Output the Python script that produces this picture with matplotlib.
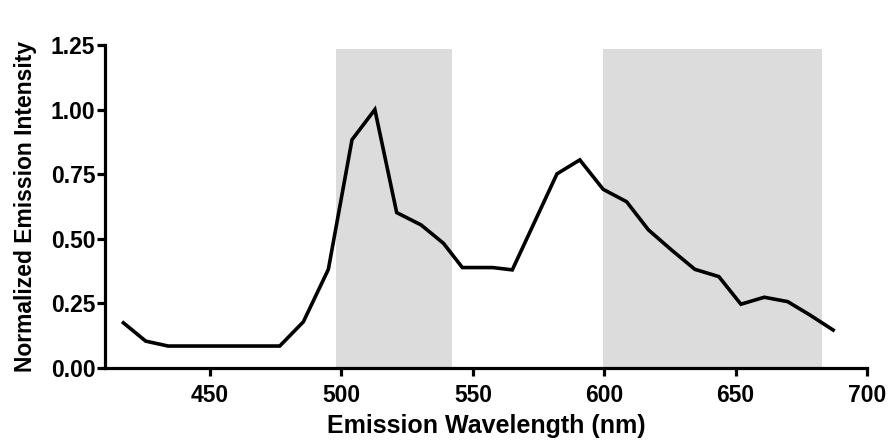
import matplotlib
matplotlib.use("Agg")
import matplotlib.pyplot as plt
from matplotlib.ticker import FormatStrFormatter

wavelength = [417, 425.5, 434, 443, 452, 460, 469, 476.5, 485.5, 495, 504, 512.7,
              521, 530.3, 538.8, 546, 557.5, 565, 573.5, 582, 590.7, 599.6, 608.5,
              616.8, 625.6, 634.5, 643.6, 652, 660.9, 669.8, 678.3, 687.1]
intensity = [0.174, 0.103, 0.084, 0.084, 0.084, 0.084, 0.084, 0.084, 0.178, 0.381,
             0.883, 1.0, 0.601, 0.553, 0.482, 0.388, 0.388, 0.379, 0.565, 0.751,
             0.805, 0.691, 0.643, 0.534, 0.456, 0.381, 0.353, 0.246, 0.273, 0.256,
             0.204, 0.146]
shade_bands = [(498, 542), (599.5, 683)]
x_ticks = [450, 500, 550, 600, 650, 700]
y_ticks = [0.00, 0.25, 0.50, 0.75, 1.00, 1.25]

plt.rcParams['font.family'] = ['Liberation Sans', 'DejaVu Sans']
plt.rcParams['font.weight'] = 'bold'

fig = plt.figure(figsize=(8.89, 4.44), dpi=100)
ax = fig.add_axes([0.1181, 0.1718, 0.9753 - 0.1181, 0.8986 - 0.1718])

for a, b in shade_bands:
    ax.fill_between([a, b], 0, 1.235, color='#dcdcdc', lw=0, zorder=0)

ax.plot(wavelength, intensity, color='black', lw=2.6, solid_joinstyle='miter', zorder=3)

ax.set_xlim(410, 700)
ax.set_ylim(0, 1.25)
ax.set_xticks(x_ticks)
ax.set_yticks(y_ticks)
ax.yaxis.set_major_formatter(FormatStrFormatter('%.2f'))
for s in ['top', 'right']:
    ax.spines[s].set_visible(False)
for s in ['left', 'bottom']:
    ax.spines[s].set_linewidth(2.3)
ax.tick_params(axis='both', width=2.3, length=6, labelsize=16.5)
ax.tick_params(axis='x', pad=6)
ax.tick_params(axis='y', pad=1)
for lab in ax.get_xticklabels() + ax.get_yticklabels():
    lab.set_fontweight('bold')
ax.set_xlabel('Emission Wavelength (nm)', fontsize=18, fontweight='bold', labelpad=5)
ax.set_ylabel('Normalized Emission Intensity', fontsize=16.5, fontweight='bold', labelpad=10)

fig.savefig('out.png', dpi=100)
